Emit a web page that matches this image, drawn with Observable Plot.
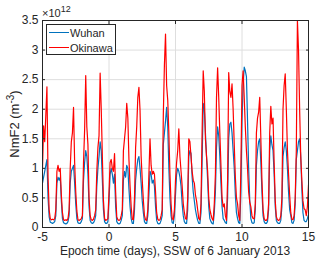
<!DOCTYPE html>
<html><head><meta charset="utf-8">
<script src="https://cdn.jsdelivr.net/npm/d3@7"></script>
<script src="https://cdn.jsdelivr.net/npm/@observablehq/plot@0.6"></script>
<style>
body{margin:0;background:#fff;}
#wrap{position:relative;width:320px;height:264px;font-family:"Liberation Sans",Arial,sans-serif;color:#262626;}
#wrap svg{position:absolute;left:0;top:0;}
.ov{position:absolute;white-space:nowrap;line-height:1;}
#legend{position:absolute;left:46px;top:24px;width:70px;height:31px;border:1px solid #262626;background:#fff;box-sizing:border-box;}
.lrow{position:absolute;left:0;height:12px;font-size:11px;line-height:12px;}
.lline{position:absolute;left:2px;top:5px;width:20px;height:0;border-top:1.5px solid;}
.ltxt{position:absolute;left:23px;top:0;}
</style></head><body><div id="wrap"></div>
<script>
// time grid: samples every 2 hours starting at day -5
const startDay = -5;
const samplesPerDay = 12;
const seriesNames = ["Wuhan", "Okinawa"];
const seriesColors = ["#0072BD", "#FF0000"];
const xTicks = [-5, 0, 5, 10, 15];
const yTicks = [0, 0.5, 1, 1.5, 2, 2.5, 3, 3.5];

// NmF2, units of 1e12 m^-3, 12 samples per day (day -5 .. day 14) + final point at day 15
const okinawa = [
  1.0, 1.72, 1.45, 1.9, 2.38, 0.85, 0.3, 0.15, 0.13, 0.14, 0.13, 0.15,
  0.3, 0.95, 1.05, 0.95, 1.0, 0.55, 0.25, 0.13, 0.12, 0.13, 0.12, 0.15,
  0.3, 1.0, 1.45, 1.6, 2.03, 1.1, 0.6, 0.28, 0.13, 0.12, 0.13, 0.15,
  0.2, 1.1, 1.65, 2.57, 1.7, 1.4, 0.5, 0.2, 0.13, 0.12, 0.14, 0.2,
  0.3, 0.95, 1.35, 1.55, 2.61, 2.0, 1.2, 0.45, 0.15, 0.12, 0.13, 0.15,
  0.6, 1.1, 1.15, 1.0, 0.95, 1.25, 0.6, 0.18, 0.13, 0.12, 0.13, 0.2,
  0.3, 1.3, 1.5, 1.7, 2.1, 1.85, 1.15, 0.7, 0.35, 0.14, 0.13, 0.5,
  1.35, 1.7, 2.2, 2.37, 1.98, 1.2, 0.8, 0.46, 0.2, 0.13, 0.12, 0.3,
  0.9, 1.5, 1.05, 0.9, 0.95, 0.9, 0.6, 0.25, 0.14, 0.12, 0.13, 0.2,
  0.3, 1.9, 2.75, 3.27, 2.4, 2.15, 1.6, 0.9, 0.4, 0.15, 0.13, 0.3,
  0.8, 1.1, 1.3, 1.67, 1.2, 0.95, 0.7, 0.4, 0.25, 0.15, 0.14, 0.5,
  1.5, 1.45, 1.2, 0.95, 0.8, 0.75, 0.55, 0.45, 0.3, 0.15, 0.13, 0.4,
  1.6, 2.65, 2.3, 1.5, 1.2, 0.95, 0.5, 0.3, 0.22, 0.15, 0.12, 0.4,
  0.9, 2.2, 2.7, 2.2, 1.6, 1.05, 0.5, 0.35, 0.4, 0.2, 0.12, 0.8,
  2.62, 2.3, 2.2, 2.43, 2.0, 1.4, 0.85, 0.5, 0.4, 0.2, 0.12, 1.0,
  2.4, 2.65, 2.2, 1.7, 1.3, 1.0, 0.6, 0.43, 0.35, 0.2, 0.15, 0.15,
  0.4, 1.6, 1.85, 1.95, 2.2, 1.5, 0.8, 0.3, 0.15, 0.12, 0.12, 0.15,
  0.4, 1.6, 2.05, 1.75, 1.85, 1.1, 0.45, 0.18, 0.13, 0.12, 0.13, 0.2,
  0.5, 2.0, 2.4, 2.6, 2.0, 1.3, 0.9, 0.55, 0.25, 0.14, 0.13, 0.2,
  0.5, 1.3, 3.5, 3.0, 2.0, 1.2, 0.8, 0.45, 0.32, 0.3, 0.2, 0.35,
  0.72
];
const wuhan = [
  0.75, 0.85, 0.95, 1.05, 1.15, 0.5, 0.18, 0.09, 0.08, 0.07, 0.08, 0.1,
  0.2, 0.75, 0.85, 0.8, 0.85, 0.45, 0.15, 0.08, 0.07, 0.06, 0.07, 0.1,
  0.2, 0.75, 0.95, 1.0, 1.05, 0.75, 0.4, 0.15, 0.08, 0.07, 0.07, 0.1,
  0.15, 0.8, 1.1, 1.3, 1.2, 0.9, 0.35, 0.12, 0.08, 0.07, 0.08, 0.12,
  0.2, 0.7, 1.0, 1.2, 1.45, 1.3, 0.8, 0.3, 0.1, 0.07, 0.07, 0.1,
  0.45, 0.9, 1.0, 0.9, 0.75, 0.9, 0.35, 0.1, 0.07, 0.06, 0.07, 0.12,
  0.2, 0.8, 0.95, 0.85, 1.05, 1.0, 0.65, 0.35, 0.15, 0.07, 0.07, 0.3,
  0.8, 1.0, 1.15, 1.2, 1.0, 0.75, 0.45, 0.25, 0.1, 0.07, 0.07, 0.2,
  0.55, 0.95, 0.9, 0.75, 0.8, 0.7, 0.35, 0.12, 0.07, 0.06, 0.07, 0.12,
  0.2, 1.4, 1.6, 1.8, 2.03, 1.7, 1.0, 0.5, 0.2, 0.08, 0.07, 0.2,
  0.55, 0.9, 1.0, 0.95, 0.85, 0.7, 0.4, 0.2, 0.1, 0.07, 0.07, 0.3,
  1.2, 1.3, 1.25, 0.85, 0.6, 0.45, 0.3, 0.2, 0.12, 0.07, 0.07, 0.25,
  1.1, 2.1, 2.0, 1.6, 1.2, 0.8, 0.35, 0.15, 0.1, 0.07, 0.06, 0.25,
  0.6, 1.35, 1.7, 1.55, 1.2, 0.75, 0.35, 0.15, 0.12, 0.08, 0.07, 0.5,
  1.5, 1.75, 1.78, 1.6, 1.3, 1.0, 0.55, 0.25, 0.15, 0.08, 0.07, 0.6,
  1.8, 2.4, 2.71, 2.65, 2.55, 1.8, 1.0, 0.45, 0.15, 0.08, 0.07, 0.08,
  0.3, 1.05, 1.3, 1.45, 1.5, 1.1, 0.6, 0.2, 0.1, 0.07, 0.07, 0.1,
  0.3, 1.3, 1.55, 1.4, 1.3, 0.9, 0.35, 0.12, 0.08, 0.07, 0.07, 0.12,
  0.35, 1.2, 1.35, 1.45, 1.3, 1.0, 0.6, 0.3, 0.2, 0.08, 0.07, 0.12,
  0.4, 1.15, 1.3, 1.45, 1.5, 1.2, 0.65, 0.25, 0.12, 0.1, 0.1, 0.15,
  0.22
];

const toRows = (arr, name) => arr.map((v, i) => ({t: startDay + i / samplesPerDay, v, s: name}));
const rowsW = toRows(wuhan, seriesNames[0]);
const rowsO = toRows(okinawa, seriesNames[1]);

const chart = Plot.plot({
  width: 320, height: 264,
  marginLeft: 42, marginRight: 12, marginTop: 20, marginBottom: 37,
  style: {fontFamily: "'Liberation Sans', Arial, sans-serif", fontSize: "12px", color: "#262626", background: "white", overflow: "visible"},
  x: {domain: [-5, 15]},
  y: {domain: [0, 3.5]},
  marks: [
    Plot.gridX(xTicks, {stroke: "#dedede", strokeOpacity: 1}),
    Plot.gridY(yTicks, {stroke: "#dedede", strokeOpacity: 1}),
    Plot.lineY(rowsW, {x: "t", y: "v", stroke: seriesColors[0], strokeWidth: 1.2, clip: true}),
    Plot.lineY(rowsO, {x: "t", y: "v", stroke: seriesColors[1], strokeWidth: 1.2, clip: true}),
    Plot.frame({stroke: "#262626", strokeWidth: 1}),
    Plot.axisX(xTicks, {anchor: "bottom", tickSize: 0, tickPadding: 5, label: null, fontSize: 12, tickFormat: d => d < 0 ? "-" + Math.abs(d) : String(d)}),
    Plot.axisX(xTicks, {anchor: "bottom", tickSize: -3, label: null, tickFormat: () => "", stroke: "#262626"}),
    Plot.axisX(xTicks, {anchor: "top", tickSize: -3, label: null, tickFormat: () => "", stroke: "#262626"}),
    Plot.axisY(yTicks, {anchor: "left", tickSize: 0, tickPadding: 4, label: null, fontSize: 12, tickFormat: d => String(d)}),
    Plot.axisY(yTicks, {anchor: "left", tickSize: -3, label: null, tickFormat: () => "", stroke: "#262626"}),
    Plot.axisY(yTicks, {anchor: "right", tickSize: -3, label: null, tickFormat: () => "", stroke: "#262626"})
  ]
});
const wrap = document.getElementById("wrap");
wrap.appendChild(chart);

// exponent label
const ex = document.createElement("div");
ex.className = "ov";
ex.style.cssText = "left:42px;top:8px;font-size:11px;";
ex.innerHTML = "&times;10<span style='font-size:9px;position:relative;top:-5px;'>12</span>";
wrap.appendChild(ex);

// y label
const yl = document.createElement("div");
yl.className = "ov";
yl.style.cssText = "left:14px;top:124px;font-size:13px;transform:translate(-50%,-50%) rotate(-90deg);transform-origin:center;";
yl.innerHTML = "NmF2 (m<span style='font-size:10px;position:relative;top:-5px;'>-3</span>)";
wrap.appendChild(yl);

// x label
const xl = document.createElement("div");
xl.className = "ov";
xl.style.cssText = "left:175px;top:245px;font-size:12px;transform:translateX(-50%);";
xl.textContent = "Epoch time (days), SSW of 6 January 2013";
wrap.appendChild(xl);

// legend
const lg = document.createElement("div");
lg.id = "legend";
seriesNames.forEach((name, i) => {
  const r = document.createElement("div");
  r.className = "lrow";
  r.style.top = (2 + i * 14.5) + "px";
  r.style.width = "68px";
  r.innerHTML = `<div class="lline" style="border-color:${seriesColors[i]}"></div><div class="ltxt">${name}</div>`;
  lg.appendChild(r);
});
wrap.appendChild(lg);
</script></body></html>
